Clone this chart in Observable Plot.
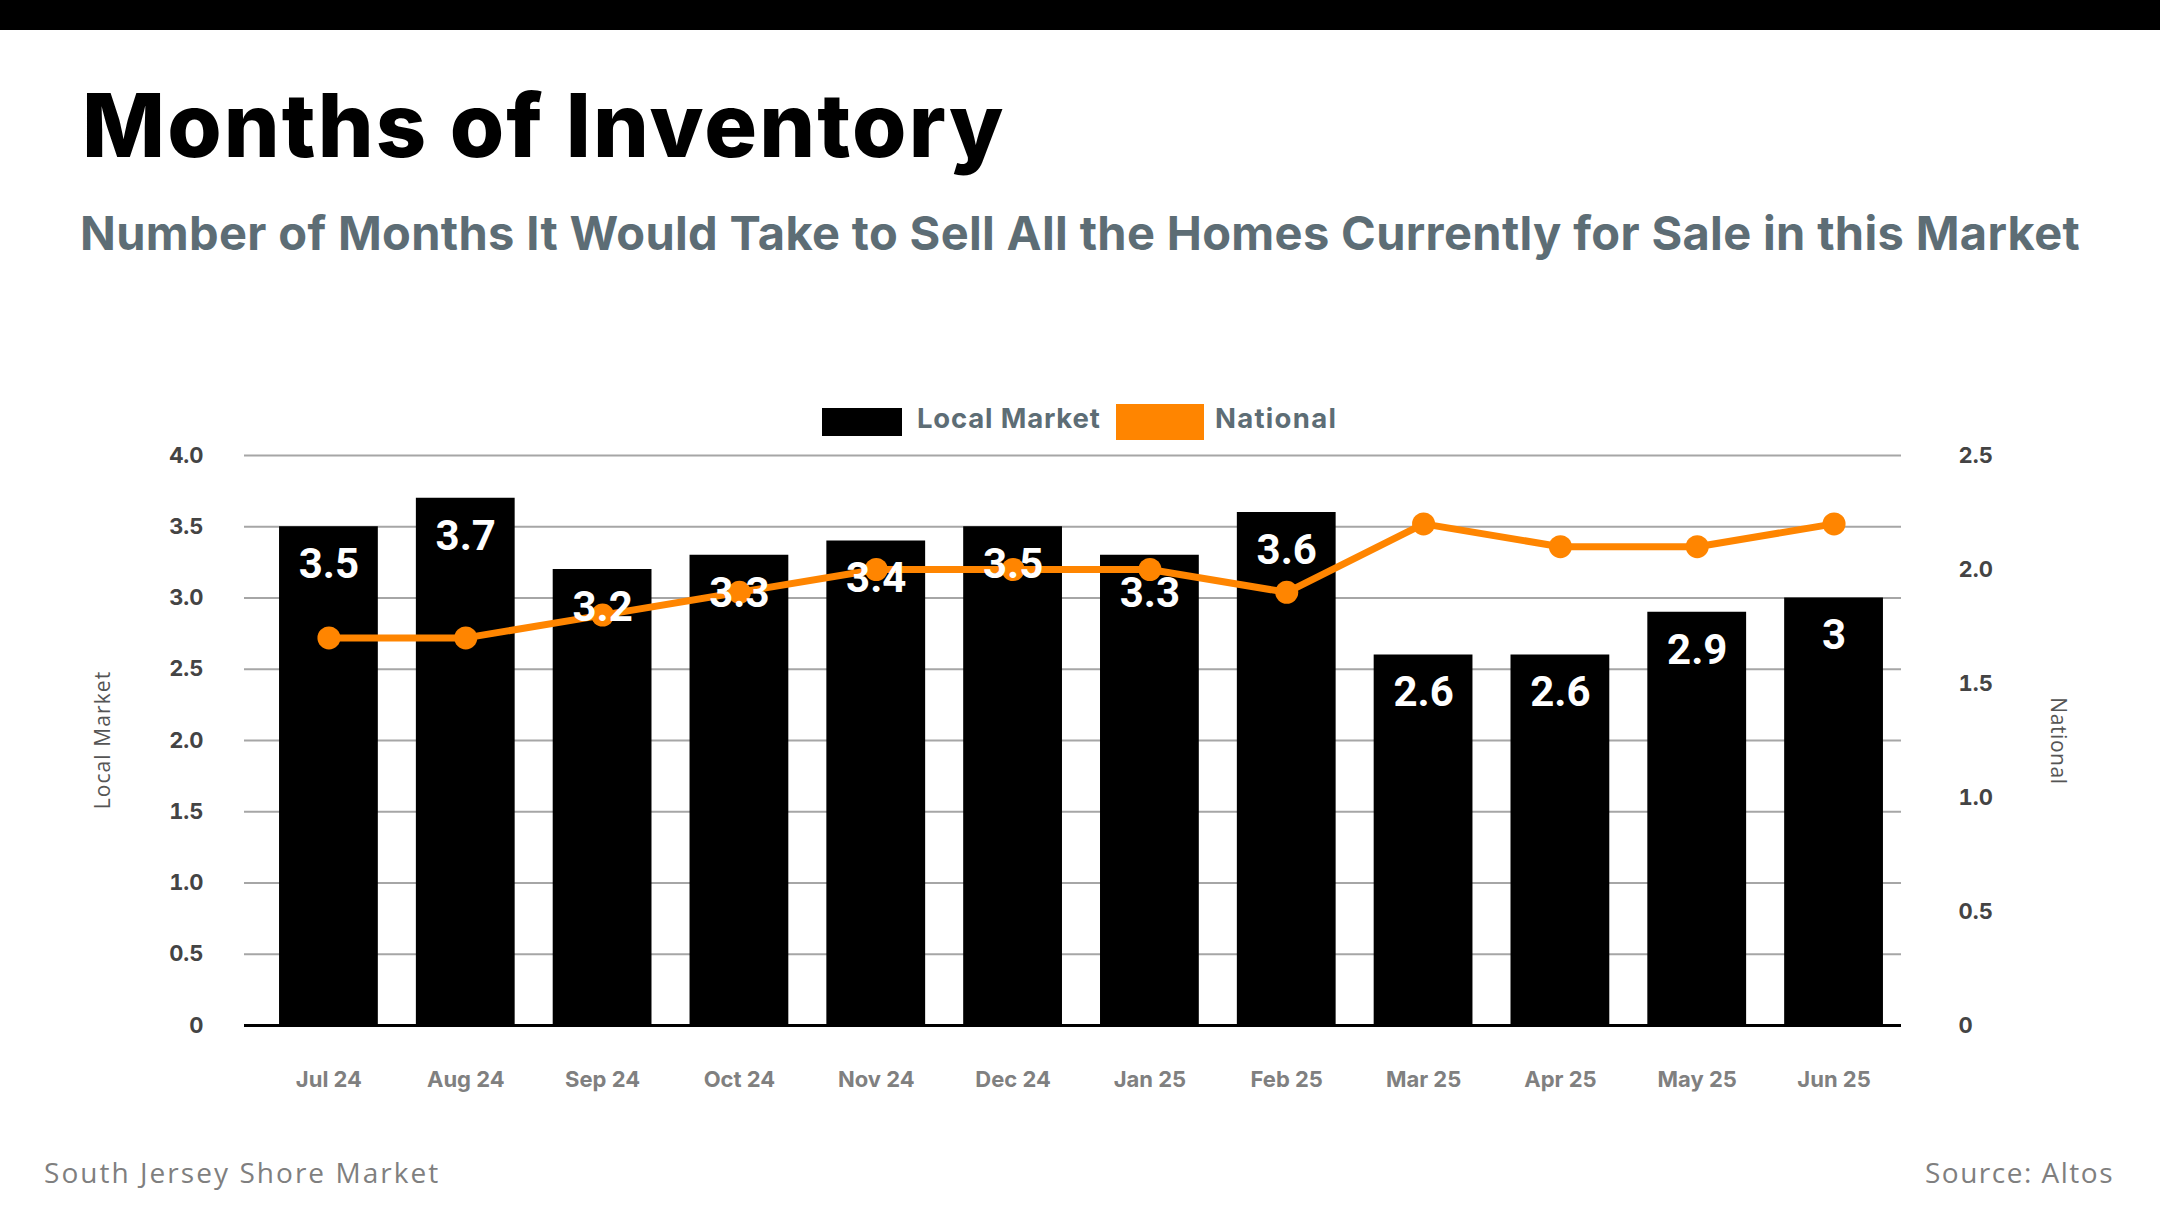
<!DOCTYPE html>
<html>
<head>
<meta charset="utf-8">
<script src="https://cdn.jsdelivr.net/npm/d3@7"></script>
<script src="https://cdn.jsdelivr.net/npm/@observablehq/plot@0.6"></script>
<style>
  html, body { margin: 0; padding: 0; background: #fff; }
  #page { position: relative; width: 2160px; height: 1215px; overflow: hidden; background: #fff; font-family: Inter, "Noto Sans", sans-serif; }
  .abs { position: absolute; white-space: nowrap; line-height: 1; }
  #topbar { position: absolute; left: 0; top: 0; width: 2160px; height: 30px; background: #000; }
  #title { left: 82px; top: 81px; font-size: 88px; font-weight: 800; color: #000; }
  #subtitle { left: 80px; top: 209px; font-size: 47px; font-weight: 700; color: #5d6d75; }
  .legtext { font-size: 27.5px; font-weight: 700; color: #5d6d75; top: 405px; }
  .swatch { position: absolute; }
  .axtitle { font-family: "Open Sans", sans-serif; font-size: 21px; color: #555; }
  .caption { font-family: "Open Sans", sans-serif; font-size: 28px; color: #7f7f7f; top: 1158px; }
  #chart { position: absolute; left: 0; top: 380px; }
</style>
</head>
<body>
<div id="page">
  <div id="topbar"></div>
  <div id="title" class="abs" data-fit="921">Months of Inventory</div>
  <div id="subtitle" class="abs" data-fit="2000">Number of Months It Would Take to Sell All the Homes Currently for Sale in this Market</div>

  <div class="swatch" style="left:822px; top:408px; width:80px; height:28px; background:#000;"></div>
  <div class="abs legtext" style="left:917px;" data-fit="183">Local Market</div>
  <div class="swatch" style="left:1116px; top:404px; width:88px; height:36px; background:#ff8500;"></div>
  <div class="abs legtext" style="left:1215px;" data-fit="121">National</div>

  <div id="chart"></div>

  <div class="abs axtitle" id="ltitle" data-fit="138" data-cx="102" data-cy="740" data-rot="-90">Local Market</div>
  <div class="abs axtitle" id="rtitle" data-fit="87" data-cx="2058" data-cy="741" data-rot="90">National</div>

  <div class="abs caption" style="left:44px;" data-fit="394">South Jersey Shore Market</div>
  <div class="abs caption" id="source" data-fit="188" data-right="2114">Source: Altos</div>
</div>
<script>
// ---- data ----
const months = ["Jul 24", "Aug 24", "Sep 24", "Oct 24", "Nov 24", "Dec 24", "Jan 25", "Feb 25", "Mar 25", "Apr 25", "May 25", "Jun 25"];
const localMarket = [3.5, 3.7, 3.2, 3.3, 3.4, 3.5, 3.3, 3.6, 2.6, 2.6, 2.9, 3.0];
const national = [1.7, 1.7, 1.8, 1.9, 2.0, 2.0, 2.0, 1.9, 2.2, 2.1, 2.1, 2.2];
const leftTicks = [0, 0.5, 1.0, 1.5, 2.0, 2.5, 3.0, 3.5, 4.0];
const rightTicks = [0, 0.5, 1.0, 1.5, 2.0, 2.5];
const leftMax = 4.0;
const rightMax = 2.5;

// map the national (right axis) values onto the left axis scale
const k = leftMax / rightMax;
const rows = months.map((m, i) => ({
  month: m,
  local: localMarket[i],
  nationalScaled: national[i] * k,
  label: String(localMarket[i])
}));

const fmt = d => d === 0 ? "0" : d.toFixed(1);

const chart = Plot.plot({
  width: 2160,
  height: 740,
  marginTop: 75,
  marginBottom: 95,
  marginLeft: 244,
  marginRight: 259,
  style: { fontFamily: "Inter, sans-serif", background: "transparent", overflow: "visible" },
  x: { domain: months, paddingInner: 0.278, paddingOuter: 0.194, align: 0.66, round: false, axis: null },
  y: { domain: [0, leftMax], axis: null },
  marks: [
    Plot.ruleY(leftTicks.filter(d => d > 0), { stroke: "#a6a6a6", strokeWidth: 2 }),
    Plot.barY(rows, { x: "month", y: "local", fill: "#000" }),
    Plot.ruleY([0], { stroke: "#000", strokeWidth: 3 }),
    Plot.line(rows, { x: "month", y: "nationalScaled", stroke: "#ff8500", strokeWidth: 7, curve: "linear" }),
    Plot.dot(rows, { x: "month", y: "nationalScaled", r: 11.5, fill: "#ff8500", stroke: "none" }),
    Plot.text(rows, { x: "month", y: "local", text: "label", dy: 38, fill: "#fff", fontSize: 42, fontWeight: 700, fontFamily: "Roboto, sans-serif", lineAnchor: "middle" }),
    Plot.axisY(leftTicks, { anchor: "left", tickSize: 0, tickPadding: 41, fontSize: 22, fontWeight: 700, color: "#444", tickFormat: fmt, label: null }),
    Plot.axisY(rightTicks.map(v => v * k), { anchor: "right", tickSize: 0, tickPadding: 57, fontSize: 22, fontWeight: 700, color: "#444", tickFormat: v => fmt(Math.round(v / k * 10) / 10), label: null }),
    Plot.axisX(months, { anchor: "bottom", tickSize: 0, tickPadding: 46, fontSize: 22, fontWeight: 700, color: "#808080", label: null })
  ]
});
document.getElementById("chart").appendChild(chart);

// ---- fit text widths ----
function fitAll() {
  document.querySelectorAll("[data-fit]").forEach(el => {
    el.style.letterSpacing = "0px";
    const target = +el.dataset.fit;
    const w = el.offsetWidth;
    const n = el.textContent.length;
    if (n > 1) el.style.letterSpacing = ((target - w) / (n - 1)) + "px";
    if (el.dataset.right) {
      el.style.left = (+el.dataset.right - el.offsetWidth) + "px";
    }
    if (el.dataset.cx) {
      el.style.left = el.dataset.cx + "px";
      el.style.top = el.dataset.cy + "px";
      el.style.transform = "translate(-50%, -50%) rotate(" + el.dataset.rot + "deg)";
    }
  });
}
fitAll();
if (document.fonts && document.fonts.ready) document.fonts.ready.then(fitAll);
</script>
</body>
</html>
